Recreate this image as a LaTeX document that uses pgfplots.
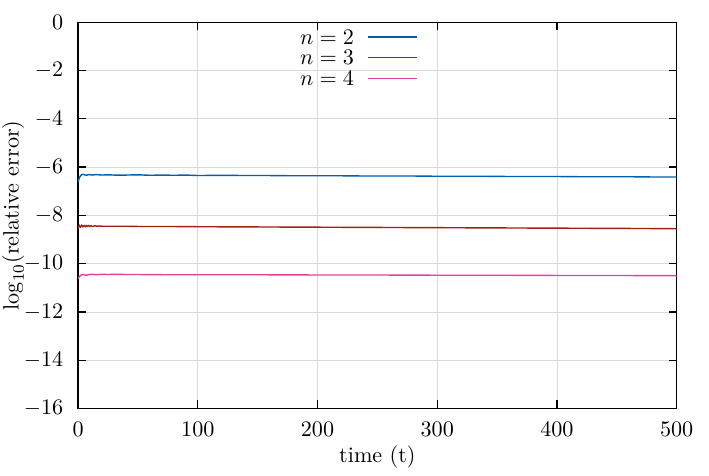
\documentclass[border=0pt,11pt]{standalone}
\usepackage{pgfplots}
\pgfplotsset{compat=1.18}
\definecolor{cblue}{RGB}{0,96,173}
\definecolor{cred}{RGB}{165,30,20}
\definecolor{cpink}{RGB}{228,64,160}
\begin{document}
\begin{tikzpicture}
\begin{axis}[
  scale only axis,
  width=296pt, height=191pt,
  xmin=0, xmax=500, ymin=-16, ymax=0,
  xtick={0,100,...,500},
  ytick={-16,-14,...,0},
  tick align=inside,
  major tick length=4pt,
  xtick pos=both, ytick pos=both,
  tick style={black, line width=0.6pt},
  grid=major,
  major grid style={gray!30, line width=0.4pt},
  axis line style={black, line width=0.6pt},
  yticklabel style={xshift=-3.5pt},
  xticklabel style={yshift=-3pt},
  xlabel={time (t)},
  ylabel={$\log_{10}$(relative error)},
  xlabel style={yshift=3pt},
  ylabel style={yshift=-5pt, inner sep=1pt},
  legend plot pos=right,
  legend cell align=right,
  legend style={at={(0.568,0.985)}, anchor=north east, draw=none, fill=none,
    row sep=1.5pt, inner sep=0pt,
    nodes={inner sep=0.8pt, text depth=0pt},
    /tikz/every odd column/.append style={column sep=6pt}},
  legend image code/.code={\draw[#1] (0pt,0pt) -- (24pt,0pt);},
]
\addplot[cblue, line width=0.7pt] coordinates {
(0,-6.62) (1,-6.45) (2,-6.36) (3,-6.32) (4,-6.30) (5,-6.31) (7,-6.34) (9,-6.31) (12,-6.33) (15,-6.31)
(20,-6.33) (25,-6.32) (30,-6.33) (40,-6.33) (50,-6.32) (60,-6.34) (70,-6.33) (80,-6.34) (90,-6.33)
(100,-6.35) (120,-6.34) (140,-6.35) (160,-6.35) (180,-6.36) (200,-6.36) (220,-6.36) (240,-6.37)
(260,-6.37) (280,-6.37) (300,-6.38) (320,-6.38) (340,-6.38) (360,-6.39) (380,-6.39) (400,-6.39)
(420,-6.40) (440,-6.40) (460,-6.40) (480,-6.41) (500,-6.41)
};
\addlegendentry{$n=2$}
\addplot[cred, line width=0.7pt] coordinates {
(0,-8.55) (1,-8.42) (2,-8.48) (3,-8.41) (4,-8.47) (5,-8.42) (6,-8.47) (7,-8.42) (8,-8.46) (9,-8.42)
(10,-8.46) (11,-8.43) (12,-8.46) (14,-8.43) (16,-8.45) (18,-8.44) (20,-8.45) (30,-8.45) (40,-8.45)
(50,-8.46) (75,-8.46) (100,-8.47) (150,-8.48) (200,-8.49) (250,-8.50) (300,-8.51) (350,-8.52)
(400,-8.53) (450,-8.54) (500,-8.55)
};
\addlegendentry{$n=3$}
\addplot[cpink, line width=0.7pt] coordinates {
(0,-10.62) (1,-10.55) (2,-10.49) (3,-10.46) (4,-10.45) (5,-10.46) (7,-10.48) (9,-10.45) (12,-10.44)
(15,-10.46) (20,-10.44) (25,-10.45) (30,-10.44) (40,-10.45) (50,-10.45) (75,-10.46) (100,-10.46)
(150,-10.46) (200,-10.47) (250,-10.47) (300,-10.48) (350,-10.48) (400,-10.49) (450,-10.49) (500,-10.50)
};
\addlegendentry{$n=4$}
\end{axis}
\path (current axis.south west) ++(-38.6pt,-31pt) coordinate (bbA);
\path (current axis.north east) ++(16pt,11pt) coordinate (bbB);
\path (bbA) rectangle (bbB);
\end{tikzpicture}
\end{document}
